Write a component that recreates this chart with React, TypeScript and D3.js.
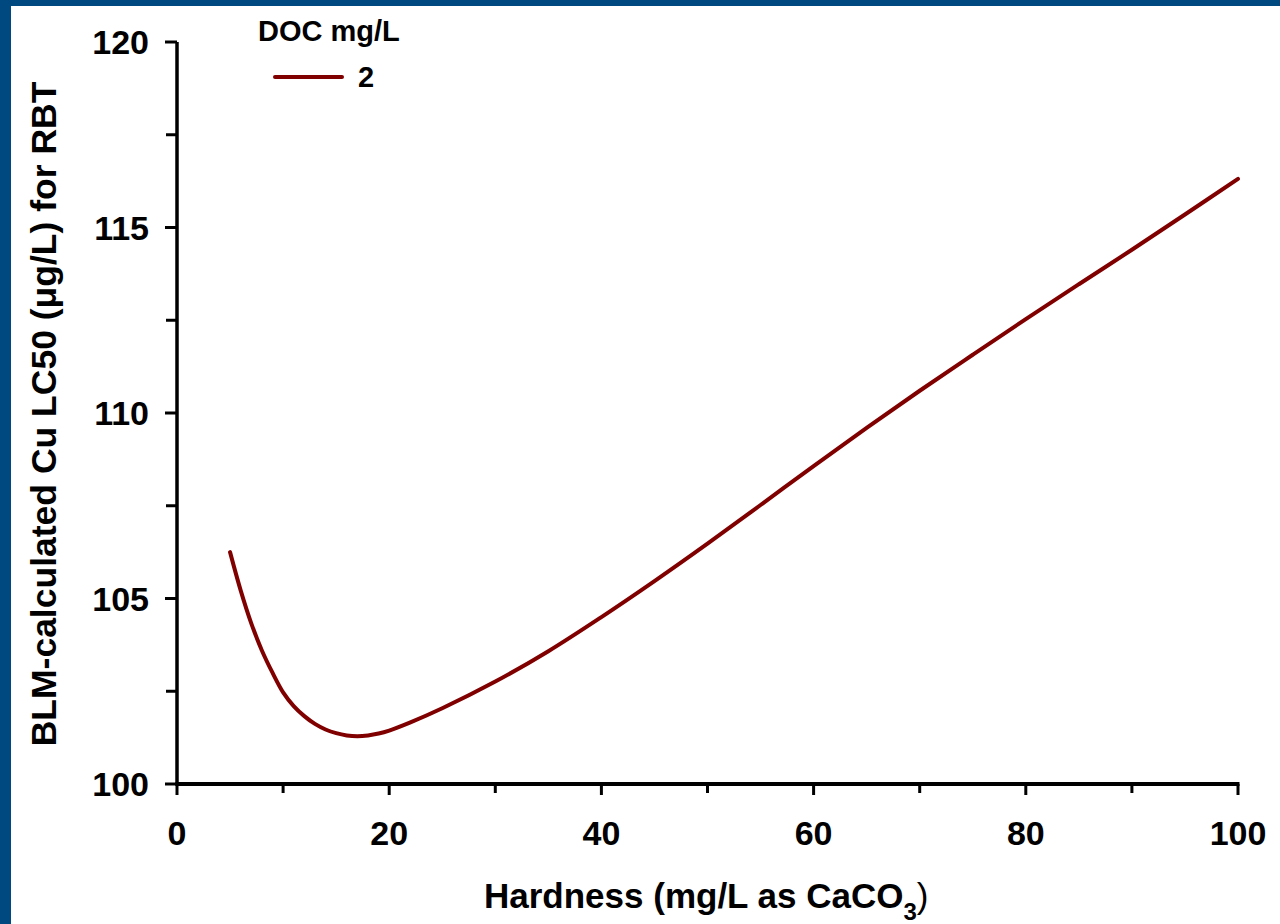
import React from "react";
import * as d3 from "d3";

const hardness = [5, 6, 7, 8, 9, 10, 11, 12, 13, 14, 15, 16, 17, 18, 19, 20, 22, 25, 30, 35, 40, 45, 50, 55, 60, 65, 70, 75, 80, 85, 90, 95, 100];
const lc50 = [106.25, 105.22, 104.33, 103.6, 103.0, 102.47, 102.1, 101.83, 101.62, 101.47, 101.37, 101.31, 101.29, 101.31, 101.36, 101.44, 101.66, 102.04, 102.76, 103.58, 104.5, 105.47, 106.48, 107.52, 108.57, 109.6, 110.6, 111.57, 112.53, 113.47, 114.4, 115.35, 116.31];
const xMajorTicks = [0, 20, 40, 60, 80, 100];
const xMinorTicks = [10, 30, 50, 70, 90];
const yMajorTicks = [100, 105, 110, 115, 120];
const yMinorTicks = [102.5, 107.5, 112.5, 117.5];
const legendTitle = "DOC mg/L";
const legendLabel = "2";

const FONT = "'Liberation Sans', Arial, Helvetica, sans-serif";
const LINE = "#800000";

export default function App() {
  const x = d3.scaleLinear().domain([0, 100]).range([177, 1238]);
  const y = d3.scaleLinear().domain([100, 120]).range([784, 42]);
  const pts: [number, number][] = hardness.map((h, i) => [h, lc50[i]]);
  const line = d3
    .line<[number, number]>()
    .x((d) => x(d[0]))
    .y((d) => y(d[1]))
    .curve(d3.curveCatmullRom.alpha(0.5));

  return (
    <svg
      width={1280}
      height={924}
      style={{ position: "absolute", left: 0, top: 0, background: "#fff" }}
    >
      <rect x={0} y={0} width={1280} height={924} fill="#fff" />
      <rect x={0} y={0} width={11} height={924} fill="#004880" />
      <rect x={0} y={0} width={1280} height={6} fill="#004880" />

      {/* axes */}
      <line x1={x(0)} x2={x(0)} y1={y(120)} y2={y(100) + 1.5} stroke="#000" strokeWidth={3.5} />
      <line x1={x(0) - 1.5} x2={x(100) + 1.5} y1={y(100)} y2={y(100)} stroke="#000" strokeWidth={4} />

      {yMajorTicks.map((t) => (
        <g key={"ym" + t}>
          <line x1={165} x2={x(0)} y1={y(t)} y2={y(t)} stroke="#000" strokeWidth={3} />
          <text
            x={149}
            y={y(t)}
            dy="0.36em"
            textAnchor="end"
            fontFamily={FONT}
            fontWeight="bold"
            fontSize={34}
            fill="#000"
          >
            {t}
          </text>
        </g>
      ))}
      {yMinorTicks.map((t) => (
        <line key={"yn" + t} x1={166} x2={x(0)} y1={y(t)} y2={y(t)} stroke="#000" strokeWidth={3} />
      ))}
      {xMajorTicks.map((t) => (
        <g key={"xm" + t}>
          <line x1={x(t)} x2={x(t)} y1={y(100)} y2={y(100) + 11} stroke="#000" strokeWidth={3} />
          <text
            x={x(t)}
            y={845}
            textAnchor="middle"
            fontFamily={FONT}
            fontWeight="bold"
            fontSize={34}
            fill="#000"
          >
            {t}
          </text>
        </g>
      ))}
      {xMinorTicks.map((t) => (
        <line key={"xn" + t} x1={x(t)} x2={x(t)} y1={y(100)} y2={y(100) + 9} stroke="#000" strokeWidth={3} />
      ))}

      {/* axis titles */}
      <text
        x={484}
        y={908}
        fontFamily={FONT}
        fontWeight="bold"
        fontSize={35}
        fill="#000"
      >
        Hardness (mg/L as CaCO
        <tspan fontSize={24} dy={12}>3</tspan>
        <tspan dy={-12} fontWeight="normal">)</tspan>
      </text>
      <text
        transform={`translate(56, 414) rotate(-90)`}
        textAnchor="middle"
        fontFamily={FONT}
        fontWeight="bold"
        fontSize={35.5}
        fill="#000"
      >
        BLM-calculated Cu LC50 (μg/L) for RBT
      </text>

      {/* data */}
      <path d={line(pts) || ""} fill="none" stroke={LINE} strokeWidth={4} strokeLinecap="round" strokeLinejoin="round" />

      {/* legend */}
      <text x={258} y={41} fontFamily={FONT} fontWeight="bold" fontSize={29} fill="#000">
        {legendTitle}
      </text>
      <line x1={275} x2={342} y1={77} y2={77} stroke={LINE} strokeWidth={4} strokeLinecap="round" />
      <text x={358} y={87} fontFamily={FONT} fontWeight="bold" fontSize={29} fill="#000">
        {legendLabel}
      </text>
    </svg>
  );
}
